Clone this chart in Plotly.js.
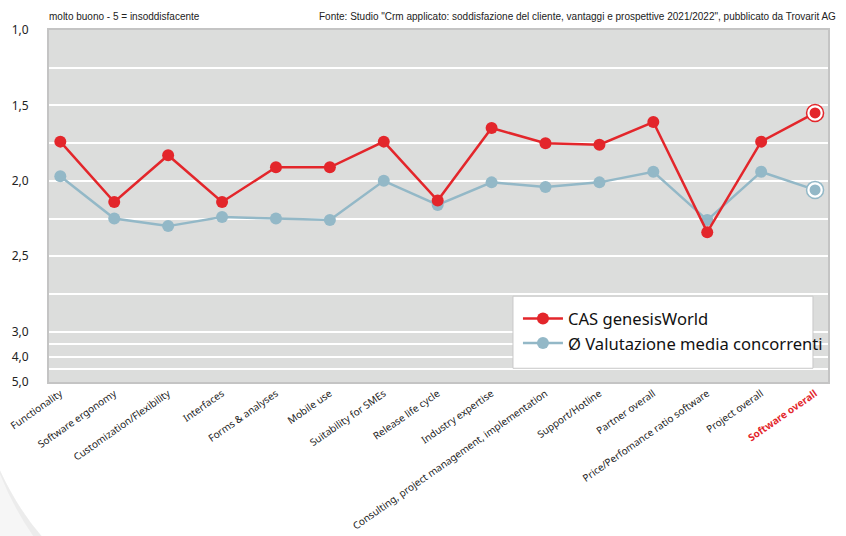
<!DOCTYPE html>
<html>
<head>
<meta charset="utf-8">
<script src="https://cdn.plot.ly/plotly-3.0.1.min.js"></script>
<style>html,body{margin:0;padding:0;background:#fff;}#chart{width:846px;height:536px;}</style>
</head>
<body>
<div id="chart"></div>
<script>
const categories = ["Functionality","Software ergonomy","Customization/Flexibility","Interfaces","Forms &amp; analyses","Mobile use","Suitability for SMEs","Release life cycle","Industry expertise","Consulting, project management, implementation","Support/Hotline","Partner overall","Price/Perfomance ratio software","Project overall","Software overall"];
const casValues = [1.74, 2.14, 1.83, 2.14, 1.91, 1.91, 1.74, 2.13, 1.65, 1.75, 1.76, 1.61, 2.34, 1.74, 1.55];
const avgValues = [1.97, 2.25, 2.30, 2.24, 2.25, 2.26, 2.00, 2.16, 2.01, 2.04, 2.01, 1.94, 2.26, 1.94, 2.06];
const seriesNames = ["CAS genesisWorld", "Ø Valutazione media concorrenti"];
const gridValues = [1, 1.25, 1.5, 1.75, 2, 2.25, 2.5, 2.75, 3, 3.5, 4, 4.5, 5];
const gridLabels = ["1,0","","1,5","","2,0","","2,5","","3,0","","4,0","","5,0"];

const RED = "#e3262b", BLUE = "#93b8c7";
// piecewise scale: 1..3 linear, 3..5 compressed
function pos(v){ return v <= 3 ? v : 3 + (v - 3) / 6; }

const xIdx = categories.map((c, i) => i);
const tickText = categories.map((c, i) => i === categories.length - 1 ? '<b style="color:#e3262b">' + c + '</b>' : c);
const last = categories.length - 1;

function ring(vals, color){
  return {x:[last], y:[pos(vals[last])], type:"scatter", mode:"markers", showlegend:false, hoverinfo:"skip",
    marker:{size:17, color:"#ffffff", line:{color:color, width:1.5}}};
}
function dot(vals, color){
  return {x:[last], y:[pos(vals[last])], type:"scatter", mode:"markers", showlegend:false, hoverinfo:"skip",
    marker:{size:11, color:color}};
}
const traces = [
  {x:xIdx, y:avgValues.map(pos), name:seriesNames[1], type:"scatter", mode:"lines+markers",
   line:{color:BLUE, width:2.5}, marker:{size:12, color:BLUE}},
  ring(avgValues, BLUE), dot(avgValues, BLUE),
  {x:xIdx, y:casValues.map(pos), name:seriesNames[0], type:"scatter", mode:"lines+markers",
   line:{color:RED, width:2.5}, marker:{size:12, color:RED}},
  ring(casValues, RED), dot(casValues, RED)
];

const headFont = {family:"Liberation Sans Narrow, Arial Narrow, sans-serif", size:10, color:"#222"};
const layout = {
  width:846, height:536,
  margin:{l:49, r:18, t:30, b:154},
  paper_bgcolor:"#ffffff", plot_bgcolor:"#dcdddc",
  font:{family:"Noto Sans, Open Sans, sans-serif", color:"#222", size:10},
  showlegend:true,
  legend:{x:0.602, y:0.2295, xanchor:"left", yanchor:"top", bgcolor:"rgba(0,0,0,0)", borderwidth:0,
    font:{size:16.6, color:"#111"}, traceorder:"reversed", itemwidth:40, tracegroupgap:0},
  xaxis:{type:"linear", range:[-0.21, 14.24], tickmode:"array", tickvals:xIdx, ticktext:tickText,
    tickangle:-35, showgrid:false, zeroline:false, showline:true, mirror:true, linecolor:"#c4c4c4", linewidth:2,
    tickfont:{size:10, color:"#222"}, ticks:"", fixedrange:true},
  yaxis:{range:[pos(5), 1], tickmode:"array", tickvals:gridValues.map(pos), ticktext:gridLabels,
    showgrid:true, gridcolor:"#ffffff", gridwidth:2, zeroline:false, showline:true, mirror:true,
    linecolor:"#c4c4c4", linewidth:2, tickfont:{size:12, color:"#222"}, ticks:"outside", ticklen:16, tickcolor:"rgba(0,0,0,0)"},
  shapes:[
    {type:"rect", xref:"paper", yref:"paper", x0:0.5956, x1:0.9807, y0:0.039, y1:0.2437,
     fillcolor:"#ffffff", line:{color:"#c8c8c8", width:1}, layer:"above"},
    {type:"path", xref:"paper", yref:"paper", layer:"below",
     path:"M -0.0629,-0.251 Q -0.04,-0.36 -0.009,-0.4387 L -0.0629,-0.4387 Z",
     fillcolor:"rgba(0,0,0,0.035)", line:{width:0}},
    {type:"path", xref:"paper", yref:"paper", layer:"below",
     path:"M -0.0629,-0.262 Q -0.045,-0.36 -0.02,-0.4387 L -0.009,-0.4387 Q -0.04,-0.36 -0.0629,-0.251 Z",
     fillcolor:"rgba(0,0,0,0.04)", line:{width:0}}
  ],
  annotations:[
    {xref:"paper", yref:"paper", x:-0.003, y:1, yshift:14, xanchor:"left", yanchor:"middle", showarrow:false,
     text:"molto buono - 5 = insoddisfacente", font:headFont},
    {xref:"paper", yref:"paper", x:1.013, y:1, yshift:14, xanchor:"right", yanchor:"middle", showarrow:false,
     text:"Fonte: Studio \"Crm applicato: soddisfazione del cliente, vantaggi e prospettive 2021/2022\", pubblicato da Trovarit AG",
     font:headFont}
  ]
};
Plotly.newPlot("chart", traces, layout, {displayModeBar:false, staticPlot:true});
</script>
</body>
</html>
